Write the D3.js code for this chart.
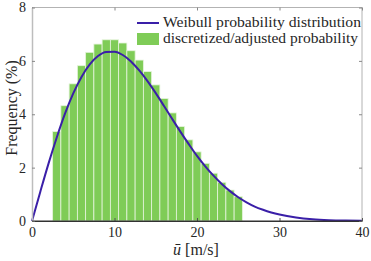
<!DOCTYPE html>
<html><head><meta charset="utf-8">
<script src="https://cdn.jsdelivr.net/npm/d3@7"></script>
<style>body{margin:0;background:#fff}svg{display:block}svg text{font-family:"Liberation Serif",serif !important;fill:#262626}</style>
</head><body><svg id="c" width="371" height="261"></svg>
<script>
// bars: discretized/adjusted probability (%) centered at wind speeds 3..25
const barCenters = [3,4,5,6,7,8,9,10,11,12,13,14,15,16,17,18,19,20,21,22,23,24,25];
const barValues = [3.35,4.32,5.14,5.82,6.32,6.63,6.79,6.79,6.67,6.38,6.03,5.60,5.10,4.59,4.05,3.54,3.04,2.59,2.16,1.79,1.45,1.16,0.91];
// Weibull curve points (%)
const curveX = [0,1,2,3,4,5,6,7,8,9,10,11,12,13,14,15,16,17,18,19,20,21,22,23,24,25,26,27,28,29,30,32,34,36,38,40];
const curveY = [0,1.09,2.15,3.13,4.02,4.78,5.40,5.87,6.18,6.33,6.34,6.22,5.98,5.64,5.24,4.79,4.31,3.82,3.34,2.88,2.44,2.05,1.70,1.39,1.12,0.89,0.70,0.54,0.42,0.32,0.24,0.13,0.066,0.032,0.015,0.007];
const xTicks = [0,10,20,30,40];
const yTicks = [0,2,4,6,8];
const legendLabels = ["Weibull probability distribution","discretized/adjusted probability"];

const svg = d3.select("#c");
const L=32, R=362, T=7.5, B=221;
const x = d3.scaleLinear().domain([0,40]).range([L,R]);
const y = d3.scaleLinear().domain([0,8]).range([B,T]);
const green="#7fcc57", blue="#3a1fa8";

// bars
svg.append("g").selectAll("rect").data(barCenters).join("rect")
  .attr("x",d=>x(d-0.5)).attr("width",x(1)-x(0))
  .attr("y",(d,i)=>y(barValues[i])).attr("height",(d,i)=>y(0)-y(barValues[i]))
  .attr("fill",green).attr("stroke","#e6f4dd").attr("stroke-width",0.8);

// curve
const pts = curveX.map((d,i)=>[d,curveY[i]]);
svg.append("path").datum(pts)
  .attr("d",d3.line().x(d=>x(d[0])).y(d=>y(d[1])).curve(d3.curveMonotoneX))
  .attr("fill","none").attr("stroke",blue).attr("stroke-width",2);

// box: top & right light
svg.append("line").attr("x1",L).attr("x2",R).attr("y1",T).attr("y2",T).attr("stroke","#a0a0a0").attr("stroke-width",0.8);
svg.append("line").attr("x1",R).attr("x2",R).attr("y1",T).attr("y2",B).attr("stroke","#a0a0a0").attr("stroke-width",0.8);
// axes
const ax = svg.append("g").attr("transform",`translate(0,${B})`)
  .call(d3.axisBottom(x).tickValues(xTicks).tickSizeInner(-3).tickSizeOuter(0).tickPadding(6));
ax.select(".domain").attr("stroke","#333").attr("stroke-width",1.2);
ax.selectAll(".tick line").attr("stroke","#555");
ax.selectAll("text").attr("font-size",14).attr("fill","#262626");
const axT = svg.append("g").attr("transform",`translate(0,${T})`)
  .call(d3.axisTop(x).tickValues(xTicks).tickSizeInner(-3).tickSizeOuter(0).tickFormat(""));
axT.select(".domain").remove(); axT.selectAll(".tick line").attr("stroke","#888");
const ay = svg.append("g").attr("transform",`translate(${L},0)`)
  .call(d3.axisLeft(y).tickValues(yTicks).tickSizeInner(-3).tickSizeOuter(0).tickPadding(6));
ay.select(".domain").attr("stroke","#bdbdbd").attr("stroke-width",1.5);
ay.selectAll(".tick line").attr("stroke","#888");
ay.selectAll("text").attr("font-size",14).attr("fill","#262626");
const ayR = svg.append("g").attr("transform",`translate(${R},0)`)
  .call(d3.axisRight(y).tickValues(yTicks).tickSizeInner(-3).tickSizeOuter(0).tickFormat(""));
ayR.select(".domain").remove(); ayR.selectAll(".tick line").attr("stroke","#888");
// redraw bottom axis on top
svg.append("line").attr("x1",L).attr("x2",R).attr("y1",B).attr("y2",B).attr("stroke","#333").attr("stroke-width",1.2);

// legend
const lg = svg.append("g");
lg.append("line").attr("x1",137).attr("x2",159).attr("y1",23).attr("y2",23).attr("stroke",blue).attr("stroke-width",2);
lg.append("rect").attr("x",137).attr("y",33).attr("width",22).attr("height",12).attr("fill",green);
lg.selectAll("text").data(legendLabels).join("text")
  .attr("x",163).attr("y",(d,i)=>27+i*16).attr("font-size",14.5)
  .attr("textLength",(d,i)=>i===0?198:195).attr("lengthAdjust","spacingAndGlyphs").text(d=>d);

// axis labels
const xl = svg.append("text").attr("x",196).attr("y",255).attr("text-anchor","middle").attr("font-size",16);
xl.append("tspan").attr("font-style","italic").text("ū");
xl.append("tspan").text(" [m/s]");
svg.append("text").attr("transform","translate(17,108) rotate(-90)").attr("text-anchor","middle").attr("font-size",16).text("Frequency (%)");
</script></body></html>
